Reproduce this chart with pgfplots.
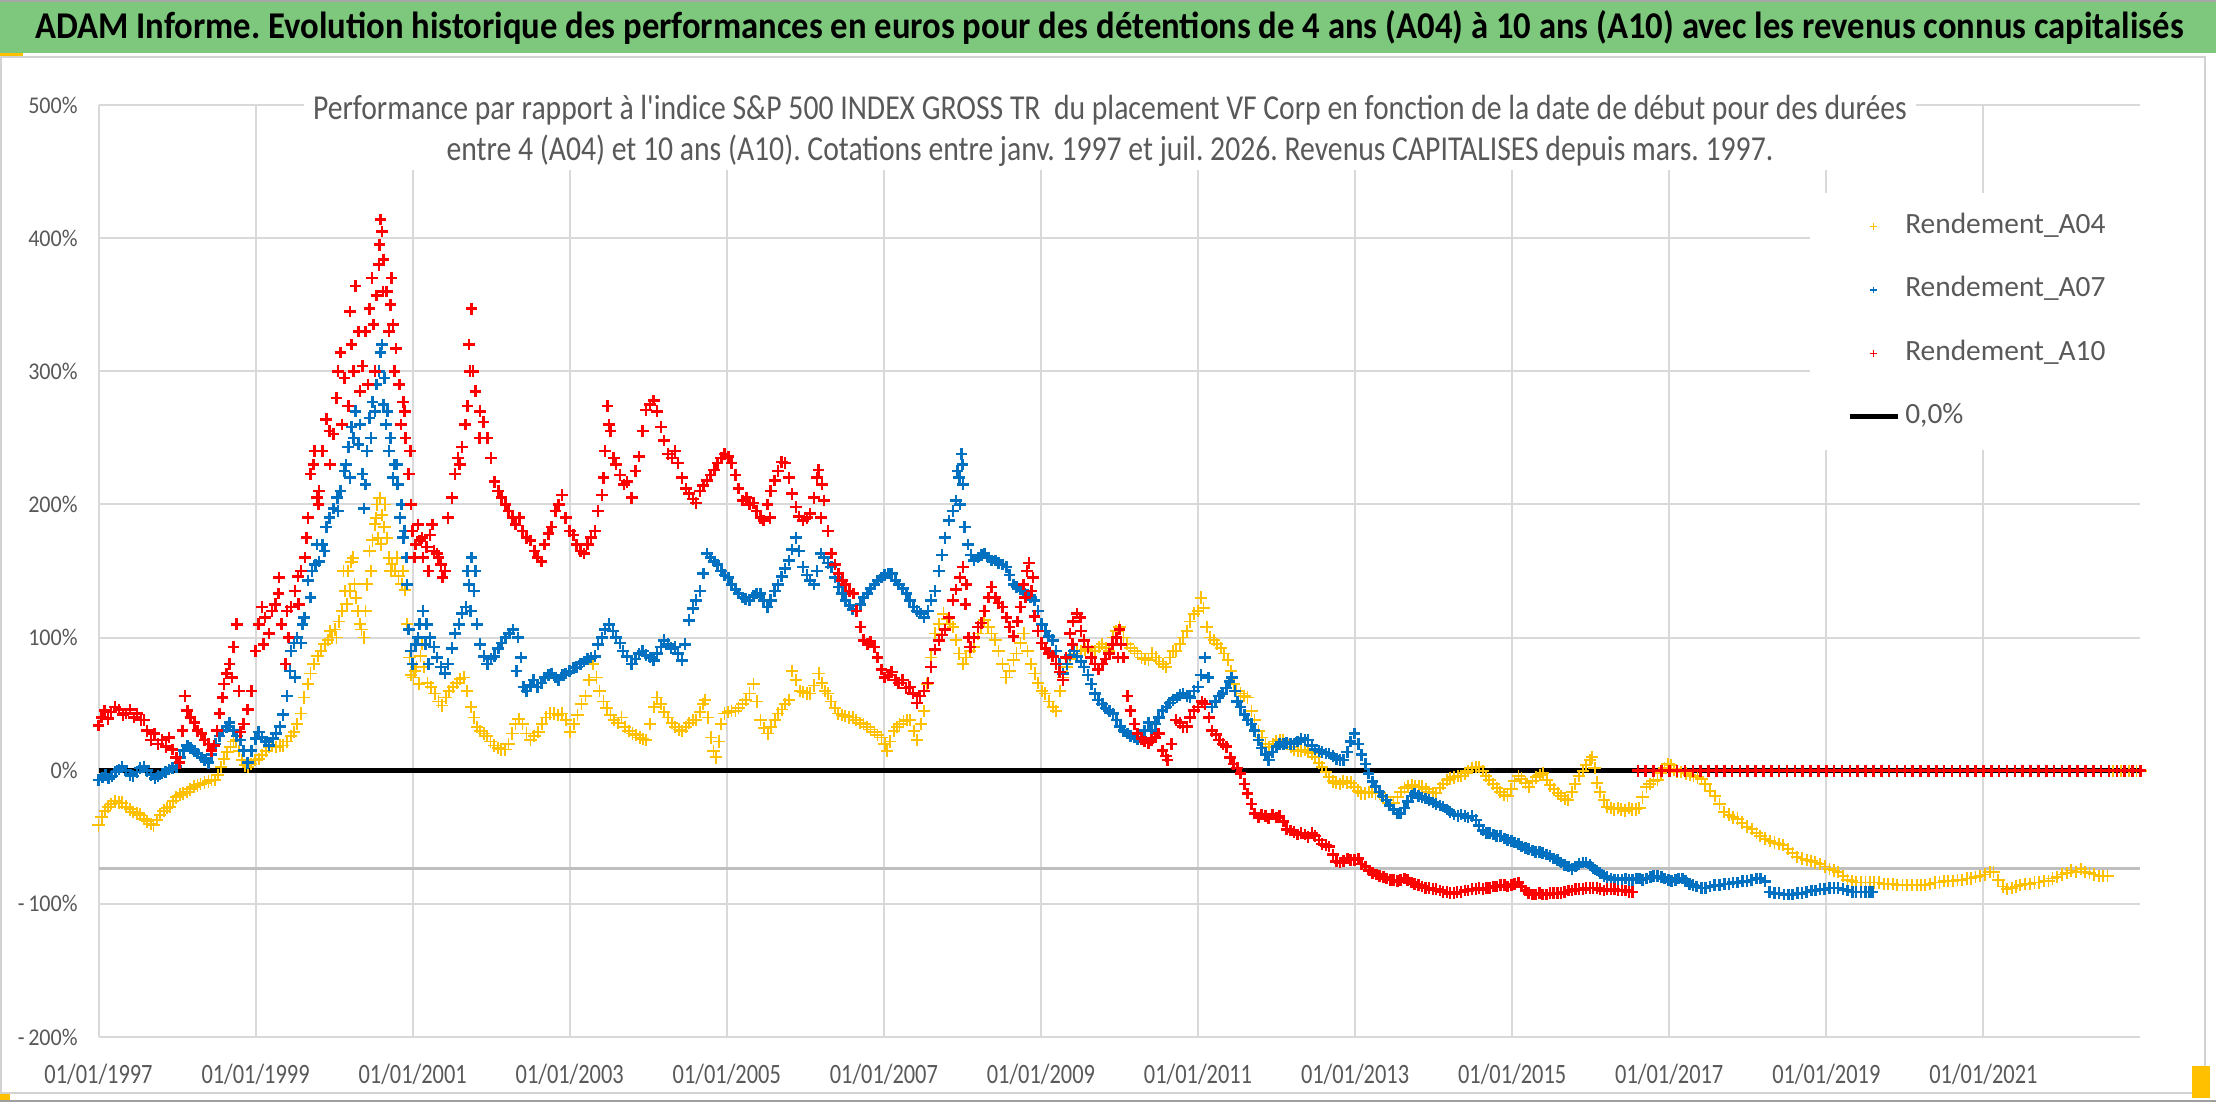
\documentclass[border=0pt]{standalone}
\usepackage{fontspec}
\setmainfont{Carlito}
\usepackage{graphicx}
\usepackage{pgfplots}
\pgfplotsset{compat=1.18}
\definecolor{lblgray}{HTML}{595959}
\definecolor{gridgray}{HTML}{D9D9D9}
\definecolor{midgray}{HTML}{BFBFBF}
\definecolor{cA04}{HTML}{FFC000}
\definecolor{cA07}{HTML}{0070C0}
\definecolor{cA10}{HTML}{FF0000}
\definecolor{titlegreen}{RGB}{125,200,125}
\pgfplotsset{plusleg/.style={legend image code/.code={\path[draw=none,fill=none] (0pt,-3pt) rectangle (24pt,3pt); \draw[##1, mark size=1.6pt, mark options={line width=0.8pt}] plot coordinates {(12pt,0pt)};}}}
\newlength\subw
\newcommand\subfont{\fontsize{17.5}{20}\selectfont}
\newcommand\subA{Performance par rapport à l\textquotesingle indice S\&P 500 INDEX GROSS TR\ \ du placement VF Corp en fonction de la date de début pour des durées}
\newcommand\subB{entre 4 (A04) et 10 ans (A10). Cotations entre janv. 1997 et juil. 2026. Revenus CAPITALISES depuis mars. 1997.}

\pgfplotstableread[row sep=\\]{
x y\\
1997.00 -41\\ 1997.04 -35\\ 1997.08 -30\\ 1997.12 -27\\ 1997.16 -25\\ 1997.21 -23\\ 1997.26 -24\\ 1997.30 -24\\ 1997.35 -27\\ 1997.40 -29\\
1997.44 -31\\ 1997.49 -32\\ 1997.53 -33\\ 1997.58 -36\\ 1997.62 -38\\ 1997.67 -40\\ 1997.70 -41\\ 1997.74 -37\\ 1997.78 -33\\ 1997.83 -30\\
1997.87 -28\\ 1997.91 -27\\ 1997.95 -23\\ 1997.99 -20\\ 1998.04 -18\\ 1998.08 -17\\ 1998.13 -16\\ 1998.17 -14\\ 1998.22 -12\\ 1998.26 -11\\
1998.30 -10\\ 1998.35 -9\\ 1998.40 -8\\ 1998.44 -7\\ 1998.48 -7\\ 1998.52 -3\\ 1998.56 3\\ 1998.60 9\\ 1998.64 14\\ 1998.68 18\\
1998.72 22\\ 1998.75 23\\ 1998.79 15\\ 1998.83 8\\ 1998.87 4\\ 1998.90 3\\ 1998.94 5\\ 1998.99 8\\ 1999.04 9\\ 1999.08 12\\
1999.13 15\\ 1999.17 18\\ 1999.21 19\\ 1999.26 18\\ 1999.31 19\\ 1999.35 19\\ 1999.40 22\\ 1999.45 26\\ 1999.49 29\\ 1999.53 35\\
1999.58 43\\ 1999.62 55\\ 1999.67 65\\ 1999.70 73\\ 1999.74 80\\ 1999.79 86\\ 1999.83 90\\ 1999.88 95\\ 1999.92 98\\ 1999.97 100\\
2000.01 106\\ 2000.06 112\\ 2000.10 120\\ 2000.14 135\\ 2000.18 150\\ 2000.22 157\\ 2000.26 140\\ 2000.30 120\\ 2000.35 106\\ 2000.38 100\\
2000.42 140\\ 2000.45 165\\ 2000.49 173\\ 2000.52 185\\ 2000.55 200\\ 2000.58 205\\ 2000.61 192\\ 2000.64 183\\ 2000.67 175\\ 2000.70 160\\
2000.74 155\\ 2000.78 150\\ 2000.82 146\\ 2000.86 140\\ 2000.90 136\\ 2000.93 110\\ 2000.96 85\\ 2000.98 72\\ 2001.01 70\\ 2001.05 78\\
2001.10 86\\ 2001.14 78\\ 2001.19 66\\ 2001.23 63\\ 2001.28 58\\ 2001.33 52\\ 2001.37 49\\ 2001.42 55\\ 2001.46 60\\ 2001.51 63\\
2001.56 66\\ 2001.60 69\\ 2001.65 70\\ 2001.69 60\\ 2001.74 48\\ 2001.78 40\\ 2001.82 33\\ 2001.86 30\\ 2001.91 28\\ 2001.95 26\\
2001.99 22\\ 2002.04 19\\ 2002.09 17\\ 2002.13 16\\ 2002.18 16\\ 2002.22 20\\ 2002.27 28\\ 2002.31 35\\ 2002.35 39\\ 2002.40 35\\
2002.45 28\\ 2002.50 23\\ 2002.55 26\\ 2002.60 29\\ 2002.65 35\\ 2002.70 40\\ 2002.75 43\\ 2002.80 43\\ 2002.85 42\\ 2002.90 43\\
2002.95 38\\ 2003.00 29\\ 2003.05 35\\ 2003.10 42\\ 2003.15 50\\ 2003.20 56\\ 2003.25 68\\ 2003.30 80\\ 2003.34 70\\ 2003.38 60\\
2003.43 52\\ 2003.47 47\\ 2003.52 42\\ 2003.56 38\\ 2003.61 36\\ 2003.66 40\\ 2003.70 33\\ 2003.75 30\\ 2003.80 28\\ 2003.84 27\\
2003.89 25\\ 2003.93 24\\ 2003.97 23\\ 2004.02 35\\ 2004.07 48\\ 2004.11 55\\ 2004.16 50\\ 2004.20 44\\ 2004.25 40\\ 2004.30 36\\
2004.34 33\\ 2004.39 31\\ 2004.43 30\\ 2004.48 33\\ 2004.52 36\\ 2004.57 38\\ 2004.61 38\\ 2004.66 44\\ 2004.70 50\\ 2004.72 53\\
2004.76 40\\ 2004.80 25\\ 2004.83 15\\ 2004.86 10\\ 2004.90 22\\ 2004.93 35\\ 2004.97 43\\ 2005.02 44\\ 2005.06 45\\ 2005.11 45\\
2005.15 47\\ 2005.20 50\\ 2005.24 53\\ 2005.29 58\\ 2005.34 65\\ 2005.38 52\\ 2005.43 38\\ 2005.47 32\\ 2005.52 28\\ 2005.56 33\\
2005.61 38\\ 2005.65 43\\ 2005.70 46\\ 2005.74 50\\ 2005.79 53\\ 2005.83 75\\ 2005.88 68\\ 2005.93 60\\ 2005.97 59\\ 2006.02 58\\
2006.06 58\\ 2006.11 64\\ 2006.17 73\\ 2006.21 66\\ 2006.25 60\\ 2006.29 58\\ 2006.33 52\\ 2006.38 47\\ 2006.42 43\\ 2006.47 42\\
2006.51 41\\ 2006.56 40\\ 2006.61 40\\ 2006.65 38\\ 2006.70 36\\ 2006.74 35\\ 2006.79 33\\ 2006.83 31\\ 2006.88 29\\ 2006.92 27\\
2006.97 25\\ 2007.01 20\\ 2007.04 15\\ 2007.08 22\\ 2007.13 30\\ 2007.17 33\\ 2007.20 35\\ 2007.25 37\\ 2007.29 38\\ 2007.33 38\\
2007.38 30\\ 2007.42 23\\ 2007.47 35\\ 2007.51 45\\ 2007.55 65\\ 2007.60 85\\ 2007.65 103\\ 2007.70 110\\ 2007.76 118\\ 2007.80 114\\
2007.84 110\\ 2007.88 108\\ 2007.92 98\\ 2007.96 88\\ 2008.01 80\\ 2008.05 85\\ 2008.10 90\\ 2008.15 93\\ 2008.20 103\\ 2008.24 108\\
2008.28 113\\ 2008.33 108\\ 2008.37 103\\ 2008.42 98\\ 2008.46 90\\ 2008.51 80\\ 2008.56 70\\ 2008.60 75\\ 2008.65 83\\ 2008.69 88\\
2008.74 96\\ 2008.78 103\\ 2008.83 90\\ 2008.87 80\\ 2008.92 73\\ 2008.96 66\\ 2009.01 60\\ 2009.05 58\\ 2009.10 52\\ 2009.15 48\\
2009.19 45\\ 2009.24 60\\ 2009.28 70\\ 2009.33 78\\ 2009.37 84\\ 2009.42 88\\ 2009.46 90\\ 2009.51 90\\ 2009.56 91\\ 2009.60 92\\
2009.65 90\\ 2009.69 90\\ 2009.74 93\\ 2009.78 95\\ 2009.83 92\\ 2009.87 90\\ 2009.92 100\\ 2009.96 105\\ 2010.00 108\\ 2010.05 100\\
2010.10 95\\ 2010.14 92\\ 2010.19 90\\ 2010.23 88\\ 2010.28 85\\ 2010.32 84\\ 2010.37 83\\ 2010.41 88\\ 2010.46 85\\ 2010.50 82\\
2010.55 80\\ 2010.59 78\\ 2010.64 85\\ 2010.68 90\\ 2010.72 90\\ 2010.77 95\\ 2010.81 100\\ 2010.86 105\\ 2010.90 112\\ 2010.95 118\\
2011.00 120\\ 2011.04 130\\ 2011.07 122\\ 2011.11 108\\ 2011.15 100\\ 2011.20 98\\ 2011.24 95\\ 2011.29 92\\ 2011.33 88\\ 2011.38 83\\
2011.42 75\\ 2011.46 65\\ 2011.49 60\\ 2011.54 58\\ 2011.59 56\\ 2011.63 55\\ 2011.68 45\\ 2011.72 38\\ 2011.77 30\\ 2011.81 25\\
2011.86 20\\ 2011.90 18\\ 2011.95 20\\ 2011.99 22\\ 2012.04 23\\ 2012.08 23\\ 2012.13 20\\ 2012.18 18\\ 2012.22 16\\ 2012.27 15\\
2012.31 15\\ 2012.36 16\\ 2012.40 14\\ 2012.45 13\\ 2012.49 10\\ 2012.54 6\\ 2012.58 3\\ 2012.63 -1\\ 2012.67 -5\\ 2012.72 -8\\
2012.76 -9\\ 2012.81 -10\\ 2012.85 -8\\ 2012.90 -9\\ 2012.95 -9\\ 2012.99 -12\\ 2013.04 -15\\ 2013.08 -17\\ 2013.13 -17\\ 2013.18 -16\\
2013.22 -16\\ 2013.26 -17\\ 2013.31 -17\\ 2013.36 -20\\ 2013.40 -22\\ 2013.45 -24\\ 2013.49 -24\\ 2013.54 -20\\ 2013.58 -16\\ 2013.63 -13\\
2013.67 -12\\ 2013.72 -11\\ 2013.76 -12\\ 2013.81 -12\\ 2013.85 -12\\ 2013.90 -14\\ 2013.94 -16\\ 2013.99 -17\\ 2014.03 -17\\ 2014.08 -13\\
2014.12 -10\\ 2014.17 -7\\ 2014.21 -6\\ 2014.26 -5\\ 2014.31 -4\\ 2014.35 -4\\ 2014.40 -2\\ 2014.44 0\\ 2014.49 2\\ 2014.54 3\\
2014.58 3\\ 2014.63 0\\ 2014.67 -4\\ 2014.71 -7\\ 2014.76 -10\\ 2014.81 -13\\ 2014.85 -16\\ 2014.90 -18\\ 2014.94 -19\\ 2014.99 -14\\
2015.03 -8\\ 2015.08 -4\\ 2015.12 -6\\ 2015.17 -9\\ 2015.21 -12\\ 2015.26 -8\\ 2015.30 -5\\ 2015.35 -3\\ 2015.39 -2\\ 2015.44 -7\\
2015.48 -11\\ 2015.53 -14\\ 2015.58 -17\\ 2015.62 -19\\ 2015.67 -21\\ 2015.71 -22\\ 2015.76 -16\\ 2015.80 -10\\ 2015.85 -4\\ 2015.90 0\\
2015.94 4\\ 2015.99 8\\ 2016.02 10\\ 2016.05 2\\ 2016.08 -9\\ 2016.12 -16\\ 2016.17 -22\\ 2016.21 -27\\ 2016.26 -28\\ 2016.30 -29\\
2016.35 -28\\ 2016.39 -29\\ 2016.44 -30\\ 2016.49 -28\\ 2016.53 -29\\ 2016.58 -29\\ 2016.62 -28\\ 2016.66 -20\\ 2016.71 -12\\ 2016.75 -10\\
2016.80 -8\\ 2016.85 -7\\ 2016.89 -2\\ 2016.94 2\\ 2016.98 5\\ 2017.02 4\\ 2017.06 1\\ 2017.10 -1\\ 2017.15 -1\\ 2017.21 -2\\
2017.26 -3\\ 2017.31 -4\\ 2017.36 -5\\ 2017.41 -6\\ 2017.46 -10\\ 2017.52 -15\\ 2017.58 -19\\ 2017.64 -25\\ 2017.70 -31\\ 2017.76 -33\\
2017.81 -35\\ 2017.87 -36\\ 2017.93 -39\\ 2017.99 -42\\ 2018.05 -44\\ 2018.11 -47\\ 2018.16 -49\\ 2018.22 -51\\ 2018.28 -53\\ 2018.34 -54\\
2018.40 -55\\ 2018.45 -56\\ 2018.51 -59\\ 2018.57 -62\\ 2018.63 -65\\ 2018.69 -66\\ 2018.75 -67\\ 2018.81 -68\\ 2018.86 -69\\ 2018.92 -70\\
2018.98 -72\\ 2019.04 -74\\ 2019.10 -75\\ 2019.15 -76\\ 2019.21 -79\\ 2019.27 -82\\ 2019.33 -83\\ 2019.38 -84\\ 2019.44 -84\\ 2019.50 -84\\
2019.56 -84\\ 2019.61 -84\\ 2019.67 -84\\ 2019.73 -85\\ 2019.79 -85\\ 2019.85 -85\\ 2019.90 -86\\ 2019.97 -86\\ 2020.03 -86\\ 2020.09 -86\\
2020.15 -86\\ 2020.21 -86\\ 2020.26 -86\\ 2020.32 -85\\ 2020.38 -84\\ 2020.44 -84\\ 2020.50 -83\\ 2020.55 -83\\ 2020.61 -83\\ 2020.67 -82\\
2020.73 -82\\ 2020.79 -81\\ 2020.84 -81\\ 2020.90 -80\\ 2020.96 -79\\ 2021.02 -78\\ 2021.08 -76\\ 2021.13 -76\\ 2021.19 -82\\ 2021.25 -87\\
2021.30 -89\\ 2021.36 -88\\ 2021.42 -87\\ 2021.47 -86\\ 2021.53 -85\\ 2021.59 -85\\ 2021.65 -84\\ 2021.71 -84\\ 2021.77 -83\\ 2021.83 -83\\
2021.88 -81\\ 2021.94 -80\\ 2022.00 -78\\ 2022.06 -77\\ 2022.12 -75\\ 2022.18 -76\\ 2022.24 -74\\ 2022.29 -76\\ 2022.35 -77\\ 2022.41 -78\\
2022.47 -79\\ 2022.52 -79\\ 2022.58 -79\\ 2022.65 0\\ 2022.75 0\\ 2022.85 0\\ 2022.95 0\\ 2023.00 0\\
2000.12 150\\ 2000.16 125\\ 2000.20 135\\ 2000.24 160\\ 2000.28 130\\ 2000.33 110\\ 2000.40 120\\ 2000.47 150\\ 2000.53 190\\ 2000.56 175\\
2000.60 170\\ 2000.65 200\\ 2000.72 150\\ 2000.80 160\\ 2000.88 150\\ 1999.95 105\\ 2000.03 100\\ 2001.03 75\\ 2001.08 65\\ 2001.12 95\\
}\tableAfour

\pgfplotstableread[row sep=\\]{
x y\\
1997.00 -7\\ 1997.05 -5\\ 1997.09 -3\\ 1997.13 -6\\ 1997.17 -4\\ 1997.22 -1\\ 1997.26 1\\ 1997.30 3\\ 1997.35 0\\ 1997.40 -3\\
1997.44 -4\\ 1997.49 -1\\ 1997.53 2\\ 1997.58 3\\ 1997.62 0\\ 1997.67 -3\\ 1997.72 -6\\ 1997.76 -4\\ 1997.81 -2\\ 1997.85 -1\\
1997.90 1\\ 1997.94 2\\ 1997.99 3\\ 1998.04 10\\ 1998.08 15\\ 1998.13 19\\ 1998.17 17\\ 1998.22 15\\ 1998.26 13\\ 1998.31 10\\
1998.35 8\\ 1998.40 6\\ 1998.44 12\\ 1998.49 20\\ 1998.54 26\\ 1998.58 30\\ 1998.63 33\\ 1998.67 36\\ 1998.72 30\\ 1998.76 26\\
1998.81 23\\ 1998.85 15\\ 1998.90 6\\ 1998.95 15\\ 1999.00 24\\ 1999.04 29\\ 1999.08 25\\ 1999.13 22\\ 1999.17 19\\ 1999.22 24\\
1999.26 28\\ 1999.31 33\\ 1999.35 42\\ 1999.40 56\\ 1999.44 75\\ 1999.49 96\\ 1999.53 100\\ 1999.58 96\\ 1999.62 115\\ 1999.67 143\\
1999.72 150\\ 1999.76 155\\ 1999.81 157\\ 1999.85 170\\ 1999.90 183\\ 1999.94 190\\ 1999.99 197\\ 2000.04 205\\ 2000.08 210\\ 2000.13 225\\
2000.18 243\\ 2000.22 258\\ 2000.27 270\\ 2000.31 245\\ 2000.36 223\\ 2000.38 197\\ 2000.42 240\\ 2000.45 265\\ 2000.49 277\\ 2000.54 290\\
2000.59 314\\ 2000.61 320\\ 2000.64 295\\ 2000.68 270\\ 2000.72 250\\ 2000.77 230\\ 2000.81 215\\ 2000.86 200\\ 2000.90 180\\ 2000.93 140\\
2000.95 106\\ 2000.98 90\\ 2001.00 80\\ 2001.04 95\\ 2001.09 110\\ 2001.13 120\\ 2001.18 110\\ 2001.22 100\\ 2001.27 93\\ 2001.31 85\\
2001.36 78\\ 2001.41 73\\ 2001.45 80\\ 2001.50 92\\ 2001.54 103\\ 2001.59 110\\ 2001.63 118\\ 2001.68 123\\ 2001.72 140\\ 2001.75 160\\
2001.78 135\\ 2001.82 110\\ 2001.86 95\\ 2001.91 86\\ 2001.95 80\\ 2002.00 84\\ 2002.04 86\\ 2002.09 92\\ 2002.13 96\\ 2002.18 100\\
2002.23 103\\ 2002.28 106\\ 2002.34 100\\ 2002.38 85\\ 2002.41 63\\ 2002.45 60\\ 2002.50 64\\ 2002.54 68\\ 2002.59 63\\ 2002.64 66\\
2002.68 70\\ 2002.73 72\\ 2002.77 73\\ 2002.82 70\\ 2002.86 68\\ 2002.91 72\\ 2002.95 73\\ 2003.00 75\\ 2003.05 77\\ 2003.09 78\\
2003.14 80\\ 2003.18 82\\ 2003.23 84\\ 2003.27 85\\ 2003.32 86\\ 2003.36 95\\ 2003.41 100\\ 2003.45 106\\ 2003.50 110\\ 2003.55 105\\
2003.59 100\\ 2003.64 96\\ 2003.68 90\\ 2003.73 86\\ 2003.79 80\\ 2003.84 84\\ 2003.88 88\\ 2003.93 90\\ 2003.97 87\\ 2004.02 85\\
2004.07 83\\ 2004.11 88\\ 2004.16 93\\ 2004.20 98\\ 2004.25 95\\ 2004.29 92\\ 2004.34 93\\ 2004.38 88\\ 2004.43 83\\ 2004.47 95\\
2004.52 113\\ 2004.57 122\\ 2004.61 128\\ 2004.66 135\\ 2004.70 148\\ 2004.75 163\\ 2004.79 160\\ 2004.84 157\\ 2004.88 155\\ 2004.93 150\\
2004.97 147\\ 2005.02 145\\ 2005.06 140\\ 2005.11 136\\ 2005.15 133\\ 2005.20 130\\ 2005.24 129\\ 2005.29 128\\ 2005.34 131\\ 2005.38 133\\
2005.43 133\\ 2005.47 128\\ 2005.52 123\\ 2005.56 128\\ 2005.61 135\\ 2005.65 140\\ 2005.70 146\\ 2005.74 152\\ 2005.79 158\\ 2005.83 166\\
2005.88 175\\ 2005.92 165\\ 2005.97 153\\ 2006.02 147\\ 2006.06 143\\ 2006.11 140\\ 2006.15 150\\ 2006.20 163\\ 2006.24 160\\ 2006.29 156\\
2006.33 153\\ 2006.38 145\\ 2006.42 138\\ 2006.47 133\\ 2006.51 128\\ 2006.56 124\\ 2006.60 121\\ 2006.65 120\\ 2006.70 125\\ 2006.74 130\\
2006.79 133\\ 2006.83 137\\ 2006.88 140\\ 2006.92 143\\ 2006.97 145\\ 2007.01 147\\ 2007.06 148\\ 2007.10 148\\ 2007.15 143\\ 2007.19 140\\
2007.24 137\\ 2007.29 133\\ 2007.33 128\\ 2007.38 123\\ 2007.42 120\\ 2007.47 118\\ 2007.51 115\\ 2007.56 120\\ 2007.60 128\\ 2007.65 135\\
2007.70 150\\ 2007.74 162\\ 2007.78 175\\ 2007.83 188\\ 2007.88 195\\ 2007.92 203\\ 2007.96 220\\ 2007.99 238\\ 2008.01 215\\ 2008.03 183\\
2008.07 170\\ 2008.11 162\\ 2008.15 158\\ 2008.20 160\\ 2008.24 162\\ 2008.28 163\\ 2008.33 160\\ 2008.37 158\\ 2008.42 158\\ 2008.46 156\\
2008.51 155\\ 2008.56 153\\ 2008.60 147\\ 2008.65 140\\ 2008.69 138\\ 2008.74 136\\ 2008.78 135\\ 2008.83 132\\ 2008.87 130\\ 2008.92 128\\
2008.96 120\\ 2009.01 110\\ 2009.06 105\\ 2009.10 101\\ 2009.15 98\\ 2009.19 90\\ 2009.24 80\\ 2009.28 73\\ 2009.33 80\\ 2009.37 87\\
2009.42 90\\ 2009.46 86\\ 2009.51 82\\ 2009.55 78\\ 2009.60 72\\ 2009.64 65\\ 2009.69 58\\ 2009.73 53\\ 2009.78 50\\ 2009.82 47\\
2009.87 45\\ 2009.92 43\\ 2009.96 38\\ 2010.01 33\\ 2010.05 30\\ 2010.10 28\\ 2010.14 26\\ 2010.19 25\\ 2010.23 24\\ 2010.28 25\\
2010.32 30\\ 2010.37 36\\ 2010.41 30\\ 2010.46 35\\ 2010.50 40\\ 2010.55 45\\ 2010.60 48\\ 2010.64 51\\ 2010.68 53\\ 2010.73 55\\
2010.77 57\\ 2010.81 58\\ 2010.86 56\\ 2010.90 55\\ 2010.95 60\\ 2011.00 63\\ 2011.04 72\\ 2011.09 85\\ 2011.13 70\\ 2011.18 48\\
2011.22 52\\ 2011.27 56\\ 2011.31 58\\ 2011.36 62\\ 2011.40 67\\ 2011.43 70\\ 2011.47 60\\ 2011.50 52\\ 2011.54 48\\ 2011.59 42\\
2011.63 38\\ 2011.68 35\\ 2011.72 30\\ 2011.77 23\\ 2011.81 17\\ 2011.86 12\\ 2011.90 8\\ 2011.95 14\\ 2012.00 18\\ 2012.04 20\\
2012.09 20\\ 2012.13 21\\ 2012.18 20\\ 2012.22 20\\ 2012.27 22\\ 2012.31 24\\ 2012.36 23\\ 2012.40 23\\ 2012.45 19\\ 2012.49 16\\
2012.54 15\\ 2012.58 14\\ 2012.63 13\\ 2012.67 13\\ 2012.72 11\\ 2012.76 9\\ 2012.81 8\\ 2012.85 8\\ 2012.90 14\\ 2012.94 22\\
2012.99 28\\ 2013.04 20\\ 2013.08 12\\ 2013.13 5\\ 2013.17 -2\\ 2013.22 -8\\ 2013.26 -12\\ 2013.31 -16\\ 2013.35 -19\\ 2013.40 -22\\
2013.44 -26\\ 2013.49 -29\\ 2013.54 -32\\ 2013.58 -32\\ 2013.63 -28\\ 2013.67 -23\\ 2013.72 -19\\ 2013.76 -17\\ 2013.81 -19\\ 2013.85 -20\\
2013.90 -21\\ 2013.94 -22\\ 2013.99 -24\\ 2014.03 -25\\ 2014.08 -26\\ 2014.12 -27\\ 2014.17 -29\\ 2014.21 -31\\ 2014.26 -33\\ 2014.31 -34\\
2014.35 -33\\ 2014.40 -34\\ 2014.44 -35\\ 2014.49 -34\\ 2014.54 -37\\ 2014.58 -41\\ 2014.63 -45\\ 2014.67 -47\\ 2014.71 -47\\ 2014.76 -48\\
2014.80 -49\\ 2014.85 -49\\ 2014.90 -51\\ 2014.94 -52\\ 2014.99 -53\\ 2015.03 -54\\ 2015.08 -55\\ 2015.12 -57\\ 2015.17 -58\\ 2015.21 -59\\
2015.26 -60\\ 2015.30 -61\\ 2015.35 -61\\ 2015.39 -62\\ 2015.44 -63\\ 2015.48 -64\\ 2015.53 -66\\ 2015.58 -67\\ 2015.62 -69\\ 2015.67 -71\\
2015.72 -72\\ 2015.76 -74\\ 2015.81 -72\\ 2015.85 -70\\ 2015.90 -69\\ 2015.94 -69\\ 2015.99 -71\\ 2016.03 -73\\ 2016.08 -75\\ 2016.12 -77\\
2016.17 -79\\ 2016.21 -80\\ 2016.26 -81\\ 2016.30 -82\\ 2016.35 -82\\ 2016.40 -82\\ 2016.44 -81\\ 2016.49 -82\\ 2016.53 -82\\ 2016.58 -81\\
2016.62 -81\\ 2016.66 -82\\ 2016.71 -81\\ 2016.76 -80\\ 2016.80 -79\\ 2016.85 -79\\ 2016.90 -80\\ 2016.94 -81\\ 2016.99 -82\\ 2017.03 -83\\
2017.08 -82\\ 2017.12 -81\\ 2017.17 -81\\ 2017.21 -83\\ 2017.26 -85\\ 2017.30 -86\\ 2017.35 -87\\ 2017.41 -88\\ 2017.46 -88\\ 2017.52 -87\\
2017.58 -86\\ 2017.64 -86\\ 2017.70 -85\\ 2017.76 -85\\ 2017.81 -84\\ 2017.87 -84\\ 2017.93 -83\\ 2017.99 -83\\ 2018.05 -82\\ 2018.11 -81\\
2018.16 -81\\ 2018.22 -83\\ 2018.28 -91\\ 2018.34 -92\\ 2018.40 -92\\ 2018.46 -93\\ 2018.52 -93\\ 2018.57 -93\\ 2018.63 -92\\ 2018.69 -92\\
2018.75 -91\\ 2018.81 -90\\ 2018.86 -90\\ 2018.92 -89\\ 2018.98 -89\\ 2019.04 -88\\ 2019.10 -88\\ 2019.15 -88\\ 2019.21 -89\\ 2019.27 -90\\
2019.33 -91\\ 2019.38 -91\\ 2019.44 -91\\ 2019.50 -91\\ 2019.55 -91\\ 2019.59 -91\\
2019.7 0\\ 2019.9 0\\ 2020.1 0\\ 2020.3 0\\ 2020.5 0\\ 2020.7 0\\ 2020.9 0\\ 2021.1 0\\ 2021.3 0\\ 2021.5 0\\
2021.7 0\\ 2021.9 0\\ 2022.1 0\\ 2022.3 0\\ 2022.5 0\\ 2022.7 0\\ 2022.9 0\\
2000.05 195\\ 2000.15 230\\ 2000.20 220\\ 2000.25 250\\ 2000.33 260\\ 2000.40 215\\ 2000.47 250\\ 2000.52 270\\ 2000.57 300\\ 2000.63 275\\
2000.66 260\\ 2000.70 240\\ 2000.75 220\\ 2000.80 230\\ 2000.84 190\\ 2000.88 175\\ 2000.92 160\\ 1999.45 90\\ 1999.50 70\\ 1999.60 110\\
1999.70 130\\ 1999.78 170\\ 1999.88 165\\ 2001.07 100\\ 2001.16 95\\ 2001.20 80\\ 2001.70 150\\ 2001.74 120\\ 2001.80 150\\ 2002.32 75\\
2007.97 200\\ 2007.94 225\\ 2008.00 230\\
}\tableAseven

\pgfplotstableread[row sep=\\]{
x y\\
1997.00 34\\ 1997.04 40\\ 1997.08 45\\ 1997.12 39\\ 1997.16 44\\ 1997.21 48\\ 1997.26 46\\ 1997.31 42\\ 1997.35 43\\ 1997.40 46\\
1997.45 40\\ 1997.49 43\\ 1997.54 38\\ 1997.58 38\\ 1997.62 30\\ 1997.67 23\\ 1997.71 28\\ 1997.76 20\\ 1997.81 23\\ 1997.86 18\\
1997.90 25\\ 1997.94 16\\ 1997.99 10\\ 1998.03 6\\ 1998.07 30\\ 1998.10 56\\ 1998.13 45\\ 1998.17 40\\ 1998.22 36\\ 1998.26 30\\
1998.31 28\\ 1998.35 23\\ 1998.40 20\\ 1998.44 15\\ 1998.47 19\\ 1998.51 30\\ 1998.54 43\\ 1998.58 55\\ 1998.63 73\\ 1998.67 80\\
1998.72 93\\ 1998.76 110\\ 1998.79 60\\ 1998.81 29\\ 1998.85 35\\ 1998.90 46\\ 1998.95 60\\ 1999.00 90\\ 1999.04 110\\ 1999.08 123\\
1999.12 115\\ 1999.17 103\\ 1999.21 120\\ 1999.25 125\\ 1999.29 133\\ 1999.33 110\\ 1999.38 80\\ 1999.42 100\\ 1999.45 123\\ 1999.50 135\\
1999.54 146\\ 1999.58 150\\ 1999.63 160\\ 1999.67 190\\ 1999.70 223\\ 1999.74 230\\ 1999.78 205\\ 1999.81 210\\ 1999.85 240\\ 1999.90 264\\
1999.94 255\\ 1999.99 253\\ 2000.03 280\\ 2000.08 314\\ 2000.13 295\\ 2000.18 274\\ 2000.22 320\\ 2000.27 364\\ 2000.31 330\\ 2000.36 304\\
2000.40 330\\ 2000.45 347\\ 2000.50 335\\ 2000.54 357\\ 2000.57 380\\ 2000.59 414\\ 2000.61 405\\ 2000.63 384\\ 2000.67 360\\ 2000.72 350\\
2000.75 335\\ 2000.79 317\\ 2000.83 290\\ 2000.88 277\\ 2000.91 250\\ 2000.95 223\\ 2000.98 200\\ 2001.00 180\\ 2001.04 170\\ 2001.09 173\\
2001.13 160\\ 2001.18 168\\ 2001.22 177\\ 2001.27 165\\ 2001.31 163\\ 2001.36 155\\ 2001.41 150\\ 2001.45 190\\ 2001.50 205\\ 2001.54 223\\
2001.58 235\\ 2001.63 243\\ 2001.67 260\\ 2001.70 274\\ 2001.73 300\\ 2001.75 347\\ 2001.77 300\\ 2001.80 285\\ 2001.86 270\\ 2001.90 262\\
2001.95 250\\ 2002.00 235\\ 2002.04 217\\ 2002.09 210\\ 2002.13 205\\ 2002.18 200\\ 2002.22 195\\ 2002.27 190\\ 2002.31 185\\ 2002.36 190\\
2002.40 180\\ 2002.45 175\\ 2002.50 173\\ 2002.55 165\\ 2002.59 160\\ 2002.64 157\\ 2002.68 170\\ 2002.73 178\\ 2002.77 183\\ 2002.82 195\\
2002.86 200\\ 2002.90 207\\ 2002.95 190\\ 2003.00 180\\ 2003.05 177\\ 2003.09 170\\ 2003.14 165\\ 2003.18 163\\ 2003.23 170\\ 2003.27 175\\
2003.32 180\\ 2003.36 195\\ 2003.41 207\\ 2003.45 240\\ 2003.48 274\\ 2003.52 255\\ 2003.56 235\\ 2003.59 230\\ 2003.64 222\\ 2003.69 215\\
2003.73 217\\ 2003.79 205\\ 2003.84 225\\ 2003.88 236\\ 2003.93 255\\ 2003.97 271\\ 2004.02 275\\ 2004.07 278\\ 2004.11 270\\ 2004.16 258\\
2004.20 248\\ 2004.25 238\\ 2004.30 235\\ 2004.34 240\\ 2004.38 231\\ 2004.43 220\\ 2004.48 212\\ 2004.52 208\\ 2004.57 204\\ 2004.61 201\\
2004.66 210\\ 2004.70 214\\ 2004.75 218\\ 2004.79 222\\ 2004.84 226\\ 2004.88 231\\ 2004.93 235\\ 2004.97 238\\ 2005.02 236\\ 2005.06 231\\
2005.11 222\\ 2005.15 212\\ 2005.20 203\\ 2005.25 205\\ 2005.29 200\\ 2005.34 201\\ 2005.38 195\\ 2005.43 190\\ 2005.47 188\\ 2005.52 200\\
2005.56 210\\ 2005.61 218\\ 2005.65 225\\ 2005.70 232\\ 2005.74 231\\ 2005.79 220\\ 2005.83 208\\ 2005.88 198\\ 2005.92 191\\ 2005.97 188\\
2006.02 190\\ 2006.06 193\\ 2006.11 205\\ 2006.15 220\\ 2006.17 226\\ 2006.21 215\\ 2006.24 203\\ 2006.29 180\\ 2006.33 163\\ 2006.38 155\\
2006.42 148\\ 2006.47 143\\ 2006.51 140\\ 2006.56 135\\ 2006.61 133\\ 2006.65 120\\ 2006.70 108\\ 2006.74 98\\ 2006.79 95\\ 2006.83 97\\
2006.88 93\\ 2006.92 85\\ 2006.97 76\\ 2007.01 70\\ 2007.06 72\\ 2007.10 74\\ 2007.15 68\\ 2007.19 66\\ 2007.24 68\\ 2007.28 62\\
2007.33 63\\ 2007.37 58\\ 2007.42 51\\ 2007.46 56\\ 2007.51 60\\ 2007.56 66\\ 2007.60 78\\ 2007.65 91\\ 2007.70 98\\ 2007.74 102\\
2007.78 106\\ 2007.83 115\\ 2007.88 128\\ 2007.92 136\\ 2007.97 145\\ 2008.01 153\\ 2008.04 125\\ 2008.08 100\\ 2008.10 93\\ 2008.15 100\\
2008.20 108\\ 2008.24 111\\ 2008.28 120\\ 2008.33 130\\ 2008.37 138\\ 2008.42 130\\ 2008.46 126\\ 2008.51 123\\ 2008.56 115\\ 2008.60 108\\
2008.65 101\\ 2008.70 112\\ 2008.74 123\\ 2008.78 140\\ 2008.82 150\\ 2008.85 156\\ 2008.88 135\\ 2008.92 116\\ 2008.96 105\\ 2009.01 96\\
2009.06 92\\ 2009.10 88\\ 2009.15 86\\ 2009.19 80\\ 2009.24 74\\ 2009.28 68\\ 2009.32 85\\ 2009.37 103\\ 2009.41 112\\ 2009.46 118\\
2009.51 105\\ 2009.55 98\\ 2009.60 93\\ 2009.64 85\\ 2009.69 80\\ 2009.73 76\\ 2009.78 80\\ 2009.82 84\\ 2009.87 88\\ 2009.91 95\\
2009.96 100\\ 2010.00 106\\ 2010.05 85\\ 2010.10 56\\ 2010.14 45\\ 2010.19 35\\ 2010.23 28\\ 2010.28 24\\ 2010.32 22\\ 2010.37 21\\
2010.41 23\\ 2010.46 25\\ 2010.50 28\\ 2010.55 15\\ 2010.59 11\\ 2010.61 8\\ 2010.66 20\\ 2010.72 38\\ 2010.77 36\\ 2010.81 33\\
2010.86 33\\ 2010.90 40\\ 2010.95 45\\ 2011.00 48\\ 2011.05 52\\ 2011.09 50\\ 2011.14 40\\ 2011.18 30\\ 2011.23 27\\ 2011.27 23\\
2011.32 20\\ 2011.36 18\\ 2011.41 10\\ 2011.45 5\\ 2011.50 2\\ 2011.54 -2\\ 2011.59 -10\\ 2011.63 -17\\ 2011.68 -25\\ 2011.72 -32\\
2011.77 -35\\ 2011.81 -33\\ 2011.86 -34\\ 2011.90 -36\\ 2011.95 -33\\ 2012.00 -35\\ 2012.04 -34\\ 2012.09 -38\\ 2012.13 -44\\ 2012.18 -45\\
2012.22 -46\\ 2012.27 -48\\ 2012.31 -47\\ 2012.36 -48\\ 2012.40 -50\\ 2012.45 -47\\ 2012.49 -49\\ 2012.54 -52\\ 2012.58 -55\\ 2012.63 -56\\
2012.67 -57\\ 2012.72 -63\\ 2012.76 -68\\ 2012.81 -69\\ 2012.85 -68\\ 2012.90 -66\\ 2012.94 -67\\ 2012.99 -67\\ 2013.04 -66\\ 2013.08 -70\\
2013.13 -72\\ 2013.18 -75\\ 2013.22 -77\\ 2013.27 -78\\ 2013.31 -79\\ 2013.36 -80\\ 2013.40 -81\\ 2013.45 -82\\ 2013.49 -82\\ 2013.54 -83\\
2013.58 -82\\ 2013.63 -81\\ 2013.67 -82\\ 2013.72 -84\\ 2013.76 -85\\ 2013.81 -86\\ 2013.85 -87\\ 2013.90 -88\\ 2013.94 -88\\ 2013.99 -89\\
2014.03 -89\\ 2014.08 -90\\ 2014.12 -91\\ 2014.17 -91\\ 2014.21 -92\\ 2014.26 -92\\ 2014.30 -91\\ 2014.35 -91\\ 2014.40 -90\\ 2014.44 -90\\
2014.49 -89\\ 2014.54 -89\\ 2014.58 -88\\ 2014.63 -89\\ 2014.67 -88\\ 2014.71 -88\\ 2014.76 -87\\ 2014.80 -87\\ 2014.85 -86\\ 2014.90 -86\\
2014.94 -87\\ 2014.99 -86\\ 2015.03 -85\\ 2015.08 -84\\ 2015.12 -87\\ 2015.17 -90\\ 2015.21 -92\\ 2015.26 -93\\ 2015.30 -93\\ 2015.35 -92\\
2015.39 -93\\ 2015.44 -93\\ 2015.48 -92\\ 2015.53 -92\\ 2015.58 -92\\ 2015.62 -92\\ 2015.67 -91\\ 2015.72 -90\\ 2015.76 -90\\ 2015.81 -89\\
2015.85 -89\\ 2015.90 -89\\ 2015.94 -88\\ 2015.99 -88\\ 2016.03 -88\\ 2016.08 -88\\ 2016.12 -89\\ 2016.17 -90\\ 2016.21 -89\\ 2016.26 -89\\
2016.30 -89\\ 2016.35 -90\\ 2016.40 -90\\ 2016.44 -90\\ 2016.49 -91\\ 2016.53 -91\\
2016.6 0\\ 2016.7 0\\ 2016.8 0\\ 2016.9 0\\ 2017.0 0\\ 2017.1 0\\ 2017.2 0\\ 2017.3 0\\ 2017.4 0\\ 2017.5 0\\
2017.6 0\\ 2017.7 0\\ 2017.8 0\\ 2017.9 0\\ 2018.0 0\\ 2018.1 0\\ 2018.2 0\\ 2018.3 0\\ 2018.4 0\\ 2018.5 0\\
2018.6 0\\ 2018.7 0\\ 2018.8 0\\ 2018.9 0\\ 2019.0 0\\ 2019.1 0\\ 2019.2 0\\ 2019.3 0\\ 2019.4 0\\ 2019.5 0\\
2019.6 0\\ 2019.7 0\\ 2019.8 0\\ 2019.9 0\\ 2020.0 0\\ 2020.1 0\\ 2020.2 0\\ 2020.3 0\\ 2020.4 0\\ 2020.5 0\\
2020.6 0\\ 2020.7 0\\ 2020.8 0\\ 2020.9 0\\ 2021.0 0\\ 2021.1 0\\ 2021.2 0\\ 2021.3 0\\ 2021.4 0\\ 2021.5 0\\
2021.6 0\\ 2021.7 0\\ 2021.8 0\\ 2021.9 0\\ 2022.0 0\\ 2022.1 0\\ 2022.2 0\\ 2022.3 0\\ 2022.4 0\\ 2022.5 0\\
2022.6 0\\ 2022.7 0\\ 2022.8 0\\ 2022.9 0\\ 2023.0 0\\
1999.75 240\\ 1999.80 200\\ 1999.95 230\\ 2000.05 300\\ 2000.10 260\\ 2000.20 345\\ 2000.25 300\\ 2000.33 285\\ 2000.43 290\\ 2000.48 370\\
2000.52 300\\ 2000.58 395\\ 2000.62 360\\ 2000.70 330\\ 2000.73 370\\ 2000.77 300\\ 2000.85 260\\ 2000.90 270\\ 2000.97 240\\ 2001.02 160\\
2001.07 185\\ 2001.12 175\\ 2001.20 150\\ 2001.25 185\\ 2001.33 160\\ 2001.38 145\\ 2001.60 230\\ 2001.72 320\\ 2001.85 250\\ 1999.30 145\\
1999.10 95\\ 1999.40 120\\ 1998.70 70\\ 1998.60 65\\ 1999.55 125\\ 1999.65 175\\ 2003.43 220\\ 2003.50 260\\ 2005.55 190\\ 2006.20 190\\
2008.05 140\\ 2008.80 130\\ 2008.90 145\\ 2009.40 95\\ 2009.50 115\\ 2009.98 85\\ 2010.02 95\\
}\tableAten

\begin{document}
\frenchspacing
\settowidth\subw{\subfont\subA}%
\pgfmathsetmacro\subsf{797/\subw}%
\begin{tikzpicture}[x=1pt,y=1pt]
\path[use as bounding box] (0,0) rectangle (1108,551);
\fill[white] (0,0) rectangle (1108,551);
% chart area border
\draw[gray!35, line width=0.8pt] (0.4,4.5) rectangle (1102.5,522.5);
\draw[gray!75, line width=0.8pt] (0,0.4) -- (1108,0.4);
% title band
\fill[titlegreen] (0,524.5) rectangle (1108,551);
\draw[gray!70, line width=1pt] (0,550.5) -- (1108,550.5);
\node[anchor=west, inner sep=0pt] at (17.5,537.5)
  {\resizebox{1074pt}{\height}{\fontsize{18.9}{22}\selectfont\bfseries ADAM Informe. Evolution historique des performances en euros pour des détentions de 4 ans (A04) à 10 ans (A10) avec les revenus connus capitalisés}};
% selection handles
\fill[cA04] (0,523) rectangle (11.5,524.5);
\fill[cA04] (0,0.8) rectangle (5,3.8);
\fill[cA04] (1096,2) rectangle (1105,18);

\begin{axis}[
  at={(49.25pt,32.5pt)}, anchor=south west,
  scale only axis, width=1021pt, height=466pt,
  xmin=1997, xmax=2023, ymin=-200, ymax=500,
  axis line style={draw=none},
  major tick length=0pt,
  xmajorgrids, ymajorgrids,
  grid style={color=gridgray, line width=1pt},
  xtick={1997,1999,...,2021},
  xticklabels={01/01/1997,01/01/1999,01/01/2001,01/01/2003,01/01/2005,01/01/2007,01/01/2009,01/01/2011,01/01/2013,01/01/2015,01/01/2017,01/01/2019,01/01/2021},
  ytick={-200,-100,...,500},
  yticklabels={-\,200\%,-\,100\%,0\%,100\%,200\%,300\%,400\%,500\%},
  /pgf/number format/assume math mode=true,
  xticklabel style={font=\fontsize{14}{16}\selectfont, text=lblgray, anchor=center, yshift=-18.5pt, xscale=0.8, transform shape},
  yticklabel style={font=\fontsize{12}{14}\selectfont, text=lblgray, anchor=east, inner sep=0pt, xshift=-10.25pt, xscale=0.92, transform shape},
  legend style={at={(0.838,0.9056)}, anchor=north west, draw=none, fill=white,
    font=\fontsize{14.7}{16}\selectfont, text=lblgray,
    inner xsep=18.5pt, inner ysep=10pt, row sep=18.75pt,
    nodes={inner sep=0pt, text height=10pt, text depth=3pt},
    /tikz/every odd column/.append style={column sep=2.5pt}},
  legend cell align=left,
]
\addplot[midgray, line width=1.5pt, forget plot] coordinates {(1997,-73.6) (2023,-73.6)};
\addplot[black, line width=2.6pt, forget plot] coordinates {(1997,0) (2023,0)};
\addplot[only marks, mark=+, mark size=3.1pt, color=cA04, mark options={line width=0.9pt}, plusleg]
  table[x=x,y=y] {\tableAfour};
\addlegendentry{Rendement\_A04}
\addplot[only marks, mark=+, mark size=2.9pt, color=cA07, mark options={line width=1.3pt}, plusleg]
  table[x=x,y=y] {\tableAseven};
\addlegendentry{Rendement\_A07}
\addplot[only marks, mark=+, mark size=2.9pt, color=cA10, mark options={line width=1.3pt}, plusleg]
  table[x=x,y=y] {\tableAten};
\addlegendentry{Rendement\_A10}
\addlegendimage{legend image code/.code={\path[draw=none,fill=none] (0pt,-3pt) rectangle (24pt,3pt); \draw[black, line width=2.6pt] (0pt,0pt) -- (24pt,0pt);}}
\addlegendentry{0,0\%}
\end{axis}

% chart subtitle (white box over the plot area)
\fill[white] (152,466) rectangle (958,500.5);
\node[anchor=base, inner sep=0pt, text=lblgray] at (555,491)
  {\scalebox{\subsf}[1]{\subfont\subA}};
\node[anchor=base, inner sep=0pt, text=lblgray] at (555,470.5)
  {\scalebox{\subsf}[1]{\subfont\subB}};
\end{tikzpicture}
\end{document}
